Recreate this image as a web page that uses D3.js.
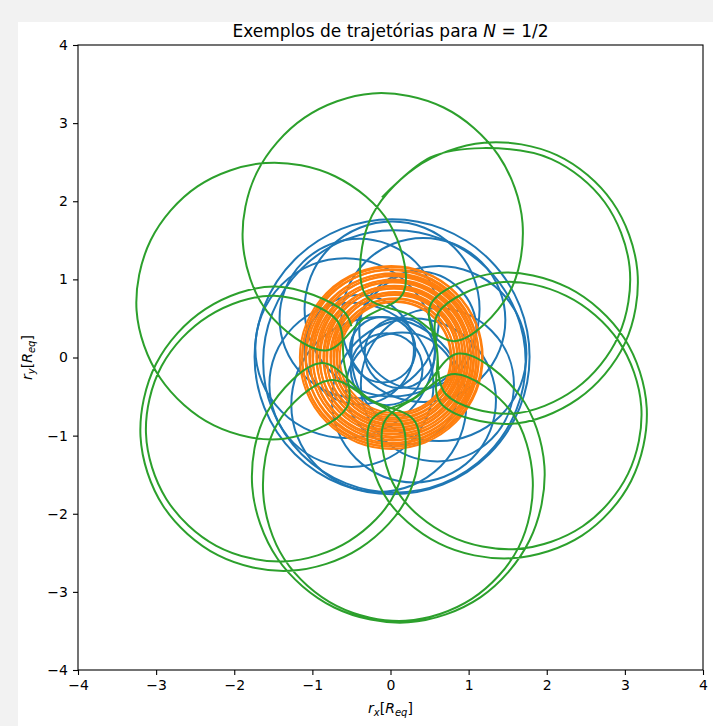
<!DOCTYPE html>
<html>
<head>
<meta charset="utf-8">
<script src="https://cdn.jsdelivr.net/npm/d3@7"></script>
<style>
  body { margin: 0; background: #f2f2f2; }
  svg { display: block; }
  text { font-family: "DejaVu Sans", sans-serif; fill: #000; }
</style>
</head>
<body>
<svg id="chart"></svg>
<script>
var W = 713, H = 726;

var titleText = "Exemplos de trajetórias para ";
var xTicks = [-4, -3, -2, -1, 0, 1, 2, 3, 4];
var yTicks = [-4, -3, -2, -1, 0, 1, 2, 3, 4];

// green trajectory, points (x, y in R_eq)
var greenPath = [
  [-0.11,2.05],[0.51,2.56],[1.18,2.68],[2.06,2.54],[2.74,1.99],[3.06,1.16],[2.92,0.28],[2.37,-0.40],[1.54,-0.72],[0.71,-0.47],
  [0.60,0.06],
  [0.61,0.57],[1.38,0.96],[2.25,0.79],[2.92,0.21],[3.21,-0.63],[3.04,-1.49],[2.46,-2.16],[1.62,-2.45],[0.75,-2.28],[0.08,-1.70],[-0.09,-0.85],
  [0.34,-0.50],
  [0.83,-0.21],[1.55,-0.70],[1.82,-1.55],[1.64,-2.43],[1.04,-3.09],[0.19,-3.37],[-0.69,-3.18],[-1.36,-2.58],[-1.63,-1.73],[-1.45,-0.85],[-0.78,-0.29],
  [-0.27,-0.54],
  [0.15,-0.85],[0.07,-1.71],[-0.53,-2.35],[-1.37,-2.61],[-2.23,-2.41],[-2.87,-1.81],[-3.13,-0.97],[-2.93,-0.11],[-2.33,0.53],[-1.49,0.79],[-0.69,0.48],
  [-0.60,-0.02],
  [-0.56,-0.64],[-1.36,-1.04],[-2.26,-0.87],[-2.95,-0.26],[-3.25,0.60],[-3.07,1.50],[-2.47,2.19],[-1.60,2.49],[-0.71,2.32],[-0.01,1.71],[0.17,0.84],
  [-0.34,0.50],
  [-0.83,0.09],[-1.58,0.59],[-1.89,1.47],[-1.71,2.37],[-1.10,3.07],[-0.23,3.38],[0.68,3.20],[1.38,2.59],[1.69,1.72],[1.51,0.81],[0.83,0.21],
  [0.26,0.54],
  [-0.32,0.80],[-0.28,1.72],[0.32,2.43],[1.20,2.75],[2.13,2.59],[2.84,1.99],[3.16,1.11],[3.00,0.18],[2.40,-0.53],[1.52,-0.85],[0.64,-0.58],
  [0.60,0.05],
  [0.52,0.69],[1.35,1.08],[2.28,0.89],[2.99,0.25],[3.28,-0.65],[3.08,-1.58],[2.45,-2.28],[1.55,-2.57],[0.62,-2.38],[-0.09,-1.74],[-0.26,-0.83],
  [0.33,-0.50],
  [0.87,0.05],[1.65,-0.48],[1.97,-1.39],[1.78,-2.34],[1.15,-3.07],[0.23,-3.39],[-0.72,-3.20],[-1.45,-2.57],[-1.77,-1.65],[-1.58,-0.70],[-0.88,-0.07],
  [-0.26,-0.54],
  [0.32,-0.83],[0.24,-1.74],[-0.39,-2.44],[-1.29,-2.73],[-2.21,-2.53],[-2.91,-1.90],[-3.20,-1.01],[-3.00,-0.08],[-2.37,0.62],[-1.47,0.91],[-0.61,0.60],[-0.50,0.40]
];

// blue loops: centre x, centre y, radius
var blueLoops = [
  [0.02, 0.01, 1.76], [0.05, -0.05, 1.68],
  [0.62, 0.05, 1.12], [0.42, 0.48, 1.05], [0.02, 0.62, 1.12], [-0.40, 0.50, 1.02], [-0.58, 0.12, 1.15],
  [-0.50, -0.35, 1.05], [-0.15, -0.60, 1.12], [0.30, -0.55, 1.05], [0.60, -0.35, 0.98],
  [0.35, 0.35, 0.75], [-0.40, 0.10, 0.70], [0.15, -0.40, 0.72],
  [0.12, 0.06, 0.45], [-0.10, 0.10, 0.42], [-0.05, -0.15, 0.46]
];

// orange loops: centre x, centre y, radius
var orangeLoops = [
  [0.01, 0.00, 1.17], [0.02, 0.01, 1.15], [0.00, -0.01, 1.13], [0.02, 0.02, 1.11],
  [0.01, -0.02, 1.09], [0.03, 0.01, 1.07], [0.02, -0.01, 1.05], [0.03, 0.02, 1.03],
  [0.02, -0.02, 1.01], [0.04, 0.01, 0.99], [0.03, -0.01, 0.97], [0.04, 0.02, 0.95],
  [0.03, -0.02, 0.93], [0.05, 0.01, 0.91], [0.04, -0.01, 0.89], [0.05, 0.02, 0.87],
  [0.04, -0.02, 0.85], [0.06, 0.01, 0.83], [0.05, -0.01, 0.81], [0.06, 0.02, 0.79],
  [0.05, -0.02, 0.77], [0.06, 0.01, 0.75], [0.05, -0.01, 0.73], [0.06, 0.00, 0.71]
];

var axL = 78, axR = 703, axT = 45, axB = 670;

var svg = d3.select("#chart").attr("width", W).attr("height", H);

svg.append("rect").attr("x", 18).attr("y", 22).attr("width", W - 18).attr("height", H - 22).attr("fill", "#fff");

var x = d3.scaleLinear().domain([-4, 4]).range([axL, axR]);
var y = d3.scaleLinear().domain([-4, 4]).range([axB, axT]);

svg.append("clipPath").attr("id", "clip")
  .append("rect").attr("x", axL).attr("y", axT).attr("width", axR - axL).attr("height", axB - axT);

var plot = svg.append("g").attr("clip-path", "url(#clip)");

plot.selectAll(".blue").data(blueLoops).enter().append("circle")
  .attr("cx", function(d) { return x(d[0]); })
  .attr("cy", function(d) { return y(d[1]); })
  .attr("r", function(d) { return x(d[2]) - x(0); })
  .attr("fill", "none").attr("stroke", "#1f77b4").attr("stroke-width", 2);

plot.selectAll(".orange").data(orangeLoops).enter().append("circle")
  .attr("cx", function(d) { return x(d[0]); })
  .attr("cy", function(d) { return y(d[1]); })
  .attr("r", function(d) { return x(d[2]) - x(0); })
  .attr("fill", "none").attr("stroke", "#ff7f0e").attr("stroke-width", 2);

var line = d3.line()
  .x(function(d) { return x(d[0]); })
  .y(function(d) { return y(d[1]); })
  .curve(d3.curveCatmullRom.alpha(0.5));

plot.append("path").datum(greenPath).attr("d", line)
  .attr("fill", "none").attr("stroke", "#2ca02c").attr("stroke-width", 2);

// axes
var fmt = function(d) { return d < 0 ? "\u2212" + Math.abs(d) : d; };
var xAxis = d3.axisBottom(x).tickValues(xTicks).tickSize(5).tickPadding(5).tickFormat(fmt);
var yAxis = d3.axisLeft(y).tickValues(yTicks).tickSize(5).tickPadding(5).tickFormat(fmt);

var gx = svg.append("g").attr("transform", "translate(0," + axB + ")").call(xAxis);
var gy = svg.append("g").attr("transform", "translate(" + axL + ",0)").call(yAxis);
[gx, gy].forEach(function(g) {
  g.select(".domain").remove();
  g.selectAll("line").attr("stroke", "#000").attr("stroke-width", 1.1);
  g.selectAll("text").attr("font-size", 14).attr("font-family", "DejaVu Sans").attr("fill", "#000");
});

svg.append("rect").attr("x", axL).attr("y", axT).attr("width", axR - axL).attr("height", axB - axT)
  .attr("fill", "none").attr("stroke", "#000").attr("stroke-width", 1.1);

// title
var t = svg.append("text").attr("x", (axL + axR) / 2).attr("y", 37)
  .attr("text-anchor", "middle").attr("font-size", 17);
t.append("tspan").text(titleText);
t.append("tspan").attr("font-style", "italic").text("N");
t.append("tspan").text(" = 1/2");

// x label
var xl = svg.append("text").attr("x", (axL + axR) / 2).attr("y", 713)
  .attr("text-anchor", "middle").attr("font-size", 14);
xl.append("tspan").attr("font-style", "italic").text("r");
xl.append("tspan").attr("font-style", "italic").attr("font-size", 10).attr("dy", 3).text("x");
xl.append("tspan").attr("dy", -3).text("[");
xl.append("tspan").attr("font-style", "italic").text("R");
xl.append("tspan").attr("font-style", "italic").attr("font-size", 10).attr("dy", 3).text("eq");
xl.append("tspan").attr("dy", -3).text("]");

// y label
var yl = svg.append("text").attr("transform", "translate(32," + (axT + axB) / 2 + ") rotate(-90)")
  .attr("text-anchor", "middle").attr("font-size", 14);
yl.append("tspan").attr("font-style", "italic").text("r");
yl.append("tspan").attr("font-style", "italic").attr("font-size", 10).attr("dy", 3).text("y");
yl.append("tspan").attr("dy", -3).text("[");
yl.append("tspan").attr("font-style", "italic").text("R");
yl.append("tspan").attr("font-style", "italic").attr("font-size", 10).attr("dy", 3).text("eq");
yl.append("tspan").attr("dy", -3).text("]");
</script>
</body>
</html>
